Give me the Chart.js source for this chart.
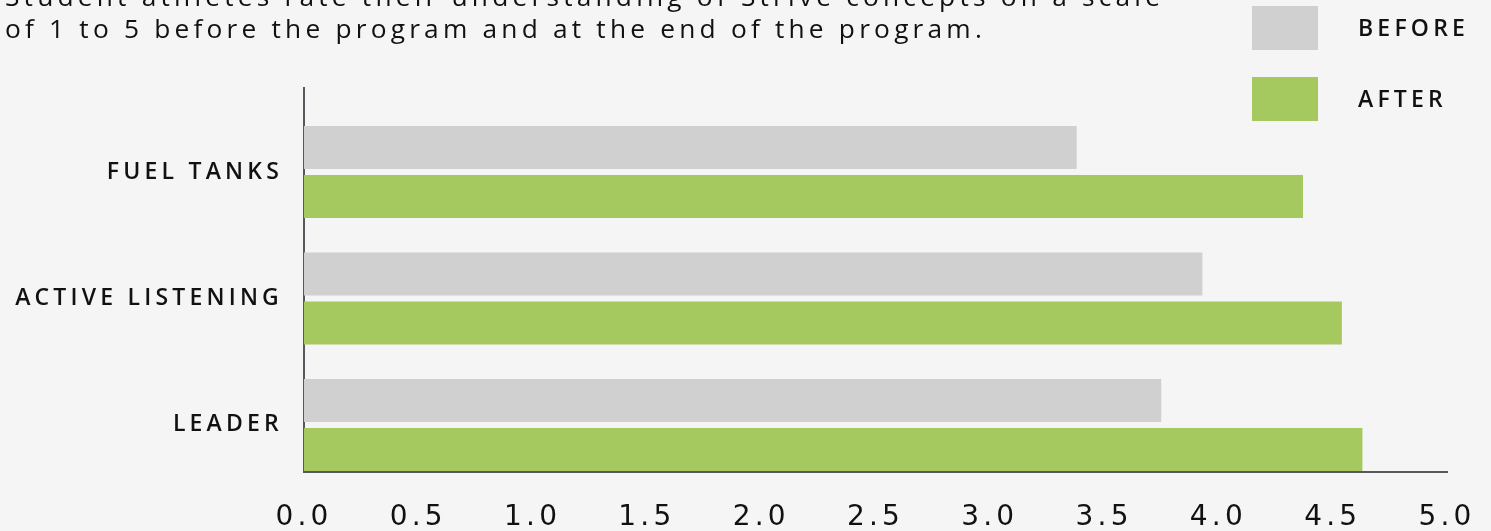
<!DOCTYPE html>
<html lang="en">
<head>
    <meta charset="UTF-8">
    <title>Strive concepts - before and after</title>
    <style>
        html, body { margin: 0; padding: 0; background: #f5f5f5; overflow: hidden; }
        .chart-container { position: absolute; left: 0; top: -17px; width: 1491px; height: 584px; }
    </style>
</head>
<body>
    <div class="chart-container">
        <canvas id="barChart"></canvas>
    </div>

    <script src="https://cdn.jsdelivr.net/npm/chart.js"></script>
    <script>
        const categories = ['FUEL TANKS', 'ACTIVE LISTENING', 'LEADER'];
        const beforeScores = [3.38, 3.93, 3.75];
        const afterScores = [4.37, 4.54, 4.63];
        const seriesNames = ['BEFORE', 'AFTER'];
        const titleLines = [
            'Student athletes rate their understanding of Strive concepts on a scale',
            'of 1 to 5 before the program and at the end of the program.'
        ];

        const FONT = "'Open Sans', sans-serif";
        const TICK_FONT = "'DejaVu Sans', sans-serif";
        const SPACING = '4.2px';

        // canvas letterSpacing gets reset whenever the canvas is resized, so set it again before layout and draw
        const spacingPlugin = {
            id: 'spacing',
            beforeLayout(chart) { chart.ctx.letterSpacing = SPACING; },
            beforeDraw(chart) { chart.ctx.letterSpacing = SPACING; }
        };

        // big box legend stacked in the top right corner
        const boxLegend = {
            id: 'boxLegend',
            afterDraw(chart) {
                const ctx = chart.ctx;
                ctx.save();
                ctx.letterSpacing = SPACING;
                chart.data.datasets.forEach((ds, i) => {
                    const y = 23 + i * 71;
                    ctx.fillStyle = ds.backgroundColor;
                    ctx.fillRect(1252, y, 66, 44);
                    ctx.fillStyle = '#111';
                    ctx.font = '600 23px ' + FONT;
                    ctx.textBaseline = 'middle';
                    ctx.textAlign = 'left';
                    ctx.fillText(ds.label, 1358, y + 23);
                });
                ctx.restore();
            }
        };

        const ctx = document.getElementById('barChart').getContext('2d');

        new Chart(ctx, {
            type: 'bar',
            data: {
                datasets: [{
                    label: seriesNames[0],
                    data: beforeScores.map((v, i) => ({ x: v, y: i })),
                    backgroundColor: '#d0d0d0'
                }, {
                    label: seriesNames[1],
                    data: afterScores.map((v, i) => ({ x: v, y: i })),
                    backgroundColor: '#a5c85f'
                }]
            },
            options: {
                indexAxis: 'y',
                responsive: true,
                maintainAspectRatio: false,
                animation: false,
                categoryPercentage: 0.775,
                barPercentage: 0.878,
                layout: { padding: { left: 5, right: 44, top: 0, bottom: 3 } },
                plugins: {
                    legend: { display: false },
                    tooltip: { enabled: false },
                    title: {
                        display: true,
                        text: titleLines,
                        align: 'start',
                        color: '#111',
                        font: { family: FONT, size: 26.3, weight: '500', lineHeight: '32px' },
                        padding: { top: 0, bottom: 41 }
                    }
                },
                scales: {
                    x: {
                        min: 0,
                        max: 5,
                        // the big tick padding would otherwise push the plot in from the right
                        afterFit: scale => { scale.paddingLeft = 0; scale.paddingRight = 0; },
                        ticks: {
                            stepSize: 0.5,
                            padding: 32,
                            color: '#111',
                            font: { family: TICK_FONT, size: 28, lineHeight: 1 },
                            callback: v => Number(v).toFixed(1)
                        },
                        grid: { display: false, drawTicks: false },
                        border: { display: true, color: '#55585c', width: 2 }
                    },
                    y: {
                        type: 'linear',
                        reverse: true,
                        offset: false,
                        min: -0.664,
                        max: 2.372,
                        afterBuildTicks: scale => {
                            scale.ticks = categories.map((c, i) => ({ value: i }));
                        },
                        afterFit: scale => { scale.width = 299; },
                        ticks: {
                            padding: 21,
                            color: '#111',
                            font: { family: FONT, size: 23, weight: '600' },
                            callback: v => categories[v]
                        },
                        grid: { display: false, drawTicks: false },
                        border: { display: true, color: '#55585c', width: 2 }
                    }
                }
            },
            plugins: [spacingPlugin, boxLegend]
        });
    </script>
</body>
</html>
